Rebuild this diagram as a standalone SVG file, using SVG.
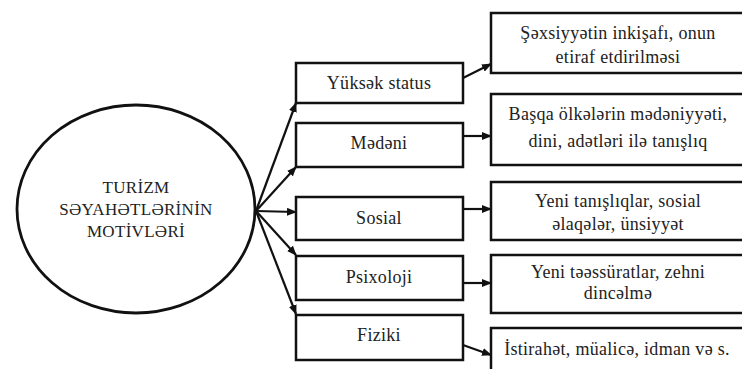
<svg xmlns="http://www.w3.org/2000/svg" width="742" height="369" viewBox="0 0 742 369">
<defs>
<style>
.box{fill:#fff;stroke:#111;stroke-width:2.5}
.t{font-family:"Liberation Serif","Times New Roman",serif;font-size:18px;letter-spacing:0.3px;fill:#222;text-anchor:middle}
.e{font-family:"Liberation Serif","Times New Roman",serif;font-size:17px;letter-spacing:0.3px;fill:#222;text-anchor:middle}
.c{stroke:#111;stroke-width:2.2;fill:none}
</style>
<marker id="ah" markerWidth="10" markerHeight="8" refX="9" refY="4" orient="auto" markerUnits="userSpaceOnUse">
<path d="M0,0 L10,4 L0,8 Z" fill="#111"/>
</marker>
</defs>
<rect width="742" height="369" fill="#fff"/>
<g id="center">
<ellipse cx="136" cy="209" rx="119" ry="104" fill="#fff" stroke="#111" stroke-width="2.8"/>
<text class="e" x="136" y="193">TURİZM</text>
<text class="e" x="136" y="215">SƏYAHƏTLƏRİNİN</text>
<text class="e" x="136" y="237">MOTİVLƏRİ</text>
</g>
<g id="connectors">
<line class="c" x1="256" y1="211" x2="296" y2="103" marker-end="url(#ah)"/>
<line class="c" x1="256" y1="211" x2="296" y2="167" marker-end="url(#ah)"/>
<line class="c" x1="256" y1="211" x2="296" y2="212" marker-end="url(#ah)"/>
<line class="c" x1="256" y1="211" x2="296" y2="255" marker-end="url(#ah)"/>
<line class="c" x1="256" y1="211" x2="296" y2="314" marker-end="url(#ah)"/>
<line class="c" x1="463" y1="78" x2="491" y2="64" marker-end="url(#ah)"/>
<line class="c" x1="463" y1="136" x2="491" y2="136" marker-end="url(#ah)"/>
<line class="c" x1="463" y1="209" x2="491" y2="209" marker-end="url(#ah)"/>
<line class="c" x1="463" y1="283" x2="491" y2="283" marker-end="url(#ah)"/>
<line class="c" x1="463" y1="345" x2="491" y2="355" marker-end="url(#ah)"/>
</g>
<g id="m1"><rect class="box" x="296" y="63" width="167" height="40"/><text class="t" x="379" y="89">Yüksək status</text></g>
<g id="m2"><rect class="box" x="296" y="123" width="167" height="44"/><text class="t" x="379" y="149">Mədəni</text></g>
<g id="m3"><rect class="box" x="296" y="197" width="167" height="43"/><text class="t" x="379" y="224">Sosial</text></g>
<g id="m4"><rect class="box" x="296" y="256" width="167" height="44"/><text class="t" x="379" y="283">Psixoloji</text></g>
<g id="m5"><rect class="box" x="296" y="315" width="167" height="45"/><text class="t" x="379" y="341">Fiziki</text></g>
<g id="r1"><rect class="box" x="491" y="13" width="254" height="60"/><text class="t" x="618" y="39">Şəxsiyyətin inkişafı,  onun</text><text class="t" x="618" y="63">etiraf etdirilməsi</text></g>
<g id="r2"><rect class="box" x="491" y="94" width="254" height="71"/><text class="t" x="618" y="120">Başqa ölkələrin mədəniyyəti,</text><text class="t" x="618" y="147">dini, adətləri ilə tanışlıq</text></g>
<g id="r3"><rect class="box" x="491" y="182" width="254" height="58"/><text class="t" x="618" y="207">Yeni tanışlıqlar, sosial</text><text class="t" x="618" y="230">əlaqələr, ünsiyyət</text></g>
<g id="r4"><rect class="box" x="491" y="255" width="254" height="58"/><text class="t" x="618" y="278">Yeni təəssüratlar, zehni</text><text class="t" x="618" y="299">dincəlmə</text></g>
<g id="r5"><rect class="box" x="491" y="328" width="254" height="45"/><text class="t" x="617" y="355">İstirahət, müalicə, idman və s.</text></g>
</svg>
